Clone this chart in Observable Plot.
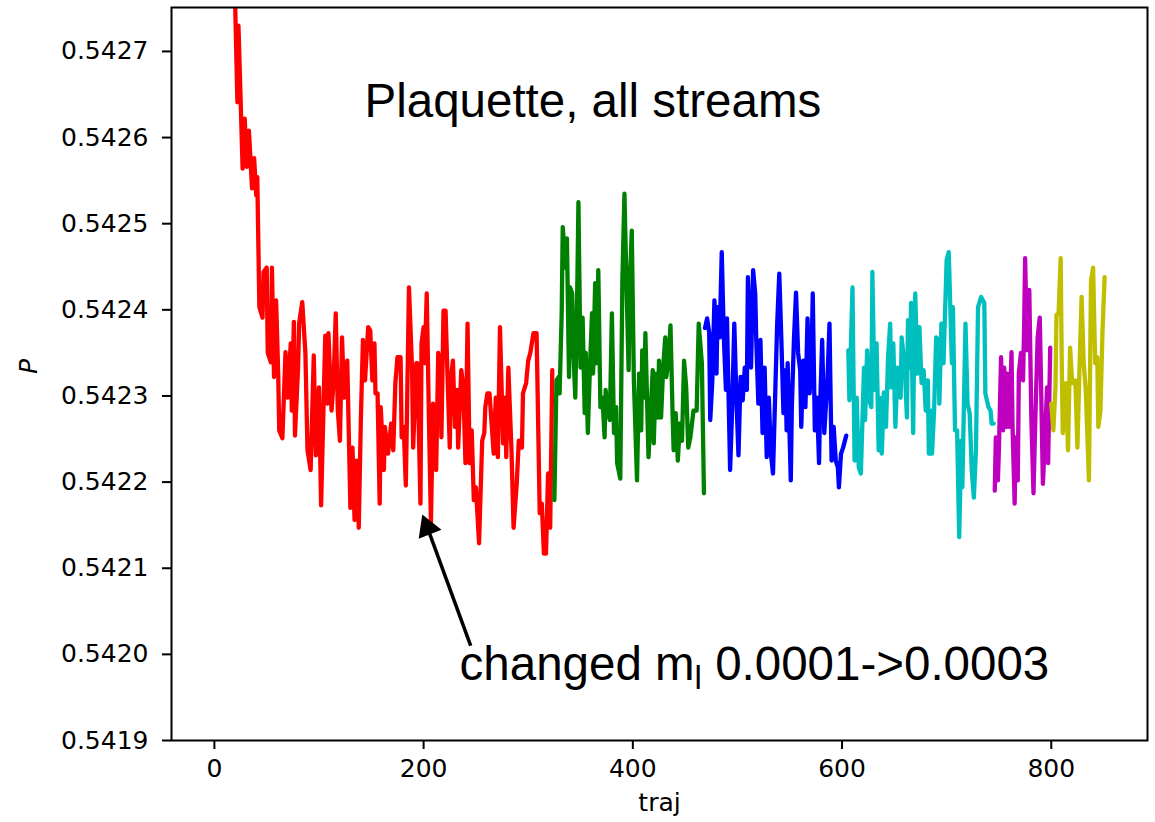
<!DOCTYPE html>
<html><head><meta charset="utf-8">
<script src="https://cdn.jsdelivr.net/npm/d3@7"></script>
<script src="https://cdn.jsdelivr.net/npm/@observablehq/plot@0.6"></script>
<style>body{margin:0;background:#fff}</style>
</head><body><div id="chart"></div>
<script>
// [traj, plaquette] per stream
const red = [[19,.54280],[22,.542641],[23,.54273],[27,.542564],[29,.542622],[31,.542566],[33,.542608],[36,.542541],[38,.542576],[40,.542533],[41,.542554],[43,.542403],[46,.542391],[47,.542444],[50,.542449],[51,.54235],[54,.542339],[55,.542449],[57,.542322],[59,.542411],[61,.542326],[62,.54226],[65,.542251],[68,.542351],[70,.542298],[73,.542361],[74,.542283],[76,.542386],[77,.542254],[80,.542333],[81,.542384],[84,.542409],[87,.54235],[89,.542237],[92,.542214],[95,.542347],[97,.542231],[100,.54231],[102,.542173],[106,.54237],[108,.542291],[109,.542373],[112,.542283],[114,.542318],[116,.542396],[118,.542283],[120,.542248],[122,.542368],[124,.542298],[127,.542341],[130,.54217],[132,.54224],[134,.542156],[136,.542225],[138,.542147],[140,.542272],[142,.542365],[144,.542318],[147,.54238],[149,.542376],[151,.542318],[153,.542361],[154,.542303],[156,.542303],[158,.542175],[159,.542287],[162,.542214],[163,.542264],[166,.542233],[169,.542268],[171,.542237],[173,.542315],[175,.542345],[178,.542345],[179,.542252],[181,.542264],[183,.542196],[186,.542426],[189,.54233],[190,.54224],[193,.542338],[194,.542338],[197,.542175],[198,.542361],[200,.54238],[201,.542338],[203,.542419],[205,.54228],[207,.542152],[209,.542291],[212,.542214],[214,.54235],[216,.54233],[217,.542252],[219,.542399],[221,.542399],[223,.542318],[225,.54224],[226,.542318],[228,.542341],[230,.542264],[232,.542307],[233,.54224],[236,.54233],[238,.54231],[240,.542222],[242,.542384],[244,.542222],[246,.54226],[248,.542179],[250,.542194],[253,.542129],[256,.542248],[258,.542257],[259,.542287],[261,.542303],[263,.542303],[267,.542233],[269,.542298],[271,.542229],[273,.54238],[276,.542245],[278,.542298],[279,.542229],[281,.542333],[284,.542237],[286,.542147],[289,.542198],[291,.542248],[294,.54224],[295,.542303],[298,.542315],[300,.542341],[302,.54235],[305,.542373],[308,.542373],[311,.542164],[313,.542175],[315,.542117],[317,.542117],[319,.54221],[321,.542147],[323,.54233]];
const green = [[325,.542179],[327,.542318],[329,.542322],[330,.542303],[332,.542396],[333,.542496],[336,.542449],[337,.542483],[339,.542322],[340,.542426],[342,.542419],[343,.542356],[345,.542298],[347,.542434],[348,.542525],[350,.542333],[352,.542391],[354,.54228],[355,.54235],[357,.542257],[359,.542333],[361,.542396],[362,.542326],[364,.542431],[365,.542338],[367,.542446],[369,.542287],[371,.542298],[373,.542252],[374,.542307],[376,.542283],[378,.542272],[380,.542396],[382,.542257],[384,.542287],[385,.542222],[388,.542204],[390,.542434],[392,.542535],[394,.542426],[396,.54233],[397,.542426],[399,.542492],[401,.542318],[404,.542202],[406,.542326],[408,.54226],[409,.542353],[411,.542298],[412,.542373],[415,.542229],[417,.54228],[419,.54233],[420,.542245],[422,.542326],[424,.542275],[425,.542341],[427,.542275],[429,.542333],[431,.542368],[432,.542322],[434,.542341],[436,.542382],[438,.54228],[439,.542237],[441,.54228],[443,.542225],[445,.542268],[447,.542248],[449,.542341],[451,.54231],[453,.54224],[455,.542252],[458,.542283],[461,.542283],[463,.542384],[466,.542338],[468,.542187]];
const blue = [[469,.542379],[471,.54239],[473,.542374],[474,.542272],[476,.542318],[478,.542411],[480,.542326],[481,.542403],[483,.542368],[485,.542467],[487,.542368],[489,.542307],[490,.54239],[493,.542214],[495,.542287],[497,.542384],[499,.542298],[501,.542231],[503,.542322],[505,.542295],[507,.542333],[509,.542307],[510,.542438],[512,.542365],[513,.542333],[515,.542446],[517,.542419],[518,.542365],[520,.542291],[522,.542365],[524,.542257],[526,.542333],[528,.542229],[530,.542298],[532,.542233],[534,.54221],[536,.542298],[538,.542384],[540,.542442],[542,.542365],[544,.54228],[546,.54233],[547,.54226],[548,.542338],[551,.542202],[552,.542287],[554,.542365],[556,.54242],[558,.54235],[560,.54233],[561,.542264],[563,.542341],[565,.542287],[567,.54239],[569,.542303],[571,.542356],[572,.542419],[574,.54226],[576,.542298],[578,.542222],[579,.542287],[581,.542365],[583,.542257],[586,.542318],[588,.542384],[590,.542225],[592,.542264],[594,.542225],[596,.542217],[597,.542194],[599,.542233],[601,.54224],[604,.542254]];
const cyan = [[606,.542353],[607,.542295],[610,.542426],[611,.542318],[612,.542225],[614,.542298],[616,.542217],[618,.54221],[621,.542333],[622,.542272],[624,.542353],[626,.542295],[628,.542287],[629,.542444],[631,.542307],[633,.542361],[635,.542237],[636,.542298],[638,.542233],[640,.542304],[642,.542264],[644,.542345],[646,.542384],[647,.54231],[649,.542361],[651,.542264],[653,.542333],[656,.542298],[657,.542368],[660,.542333],[662,.542275],[663,.542388],[665,.542333],[666,.542408],[668,.542257],[669,.542373],[670,.542419],[672,.542326],[674,.54238],[676,.542315],[678,.54233],[680,.542283],[682,.542318],[683,.542233],[685,.542283],[686,.542233],[688,.542283],[690,.542368],[692,.542365],[693,.542291],[695,.542384],[697,.542338],[700,.542458],[702,.542467],[705,.542338],[706,.542403],[708,.54226],[710,.54226],[712,.542136],[714,.542248],[715,.542194],[718,.542384],[720,.542291],[722,.54228],[724,.542214],[726,.542182],[728,.542237],[730,.542403],[733,.542415],[736,.542408],[737,.542303],[740,.542287],[742,.542283],[743,.542268],[745,.542268]];
const magenta = [[746,.54219],[747,.542252],[749,.542202],[750,.54224],[752,.542345],[754,.54226],[755,.542333],[757,.542264],[758,.542326],[760,.542264],[762,.542351],[763,.542264],[765,.542175],[766,.542252],[768,.542202],[769,.542326],[771,.54235],[773,.542318],[774,.542376],[775,.54246],[777,.542353],[779,.542423],[781,.542272],[783,.542187],[785,.542283],[787,.542368],[789,.542391],[790,.54233],[792,.542198],[794,.542252],[796,.54231],[797,.542222],[799,.542356]];
const yellow = [[800,.542291],[802,.54226],[804,.54231],[805,.542394],[807,.542396],[809,.54246],[810,.542341],[811,.542257],[814,.542315],[816,.542237],[818,.542356],[820,.542315],[823,.542318],[825,.54224],[827,.542333],[829,.542415],[831,.542338],[833,.542307],[836,.542202],[838,.542434],[840,.542449],[842,.542338],[844,.542345],[845,.542264],[847,.542283],[849,.542376],[851,.542438]];

const streamNames = ["r", "g", "b", "c", "m", "y"];
const streamColors = ["#ff0000", "#008000", "#0000ff", "#00bfbf", "#bf00bf", "#bfbf00"];
const streams = [red, green, blue, cyan, magenta, yellow];

const xTicks = [0, 200, 400, 600, 800];
const yTicks = [0.5419, 0.5420, 0.5421, 0.5422, 0.5423, 0.5424, 0.5425, 0.5426, 0.5427];

const titleLabel = [{t: 143.5, p: 0.542624, text: "Plaquette, all streams"}];
const annotLabel = [{t: 234.4, p: 0.541970, text: "changed m"}];
const annotArrow = [{t1: 245, p1: 0.542010, t2: 203.7, p2: 0.542147}];
const annotHead = [{t: 203.7, p: 0.542147}];

const lineMarks = streams.map((s, i) => Plot.line(s, {
  x: d => d[0], y: d => d[1], stroke: streamColors[i], strokeWidth: 4.3,
  strokeLinejoin: "round", clip: true
}));

const chart = Plot.plot({
  width: 1155, height: 822,
  marginLeft: 171, marginRight: 8, marginTop: 7, marginBottom: 82,
  style: {fontFamily: "DejaVu Sans", fontSize: "25px", background: "#fff", color: "#000"},
  x: {domain: [-41, 892]},
  y: {domain: [0.5419, 0.542751]},
  marks: [
    Plot.axisX({ticks: xTicks, tickSize: 9, tickPadding: 10, strokeWidth: 2, label: null, tickFormat: d => String(d)}),
    Plot.axisY({ticks: yTicks, tickSize: 9, tickPadding: 14, strokeWidth: 2, label: null, tickFormat: d => d.toFixed(4)}),
    ...lineMarks,
    Plot.frame({stroke: "#000", strokeWidth: 2}),
    Plot.text(titleLabel, {x: "t", y: "p", text: "text", textAnchor: "start", lineAnchor: "bottom",
      fontFamily: "Liberation Sans", fontSize: 47.5, fill: "#000"}),
    Plot.link(annotArrow, {x1: "t1", y1: "p1", x2: "t2", y2: "p2", stroke: "#000", strokeWidth: 3.6}),
    Plot.dot(annotHead, {x: "t", y: "p", symbol: "triangle", r: 9.1, rotate: -21.6, fill: "#000", stroke: "none"}),
    Plot.text(annotLabel, {x: "t", y: "p", text: "text", textAnchor: "start", lineAnchor: "bottom",
      fontFamily: "Liberation Sans", fontSize: 47.5, fill: "#000", className: "annot"}),
    Plot.text(["traj"], {frameAnchor: "bottom", dy: 70, text: d => d, fontSize: 25, fill: "#000"}),
    Plot.text(["P"], {frameAnchor: "left", dx: -143, rotate: -90, text: d => d, fontSize: 25, fontStyle: "italic", fill: "#000"})
  ]
});
document.getElementById("chart").appendChild(chart);

// subscript for m_l
const at = chart.querySelector("g.annot text");
if (at) {
  at.textContent = "";
  const ns = "http://www.w3.org/2000/svg";
  const a = document.createElementNS(ns, "tspan"); a.textContent = "changed m"; at.appendChild(a);
  const b = document.createElementNS(ns, "tspan"); b.textContent = "l"; b.setAttribute("font-size", "33"); b.setAttribute("dy", "9"); at.appendChild(b);
  const c = document.createElementNS(ns, "tspan"); c.textContent = " 0.0001->0.0003"; c.setAttribute("dy", "-9"); at.appendChild(c);
}
</script>
</body></html>
